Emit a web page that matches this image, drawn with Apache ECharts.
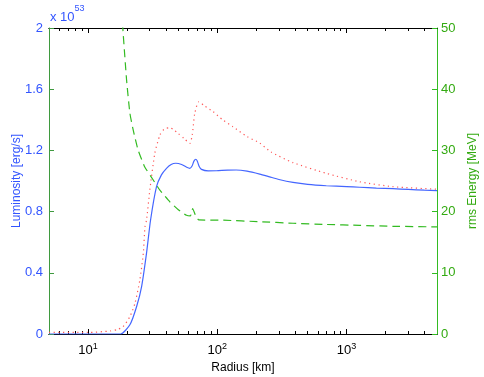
<!DOCTYPE html>
<html>
<head>
<meta charset="utf-8">
<script src="https://cdn.jsdelivr.net/npm/echarts@6/dist/echarts.min.js"></script>
<style>
html,body{margin:0;padding:0;background:#fff}
#main{width:484px;height:377px}
</style>
</head>
<body>
<div id="main"></div>
<script>
// values: radius [km] and the three curves
let blueR = [5,15,17.9,21.1,23.8,26,28.4,30.5,33.9,37,40.5,44,47.8,53,58,61.4,64,66,68.2,70,72.5,75.5,85,98.6,120,140,170,213,254,300,385,500,697,1000,1259,1700,2280,3000,4000,5000]
let blueL = [0,0,0,0.06,0.18,0.31,0.53,0.745,0.963,1.04,1.083,1.108,1.116,1.108,1.09,1.083,1.10,1.13,1.142,1.13,1.095,1.076,1.066,1.067,1.071,1.072,1.064,1.045,1.027,1.01,0.991,0.978,0.969,0.963,0.959,0.954,0.95,0.945,0.94,0.937]

let redR = [5,10,15,17,18.7,21.1,23.1,25.2,26.8,27.6,28.4,30.1,32.9,36,39,43,46,49.8,55,61.4,64,67,72,80,92.9,110,132,170,213,260,385,697,1259,2280,5000]
let redL = [0.01,0.01,0.02,0.03,0.048,0.113,0.2,0.353,0.527,0.70,0.745,0.941,1.181,1.30,1.34,1.348,1.335,1.311,1.28,1.246,1.30,1.442,1.518,1.49,1.453,1.40,1.355,1.29,1.248,1.19,1.12,1.05,0.995,0.963,0.946]

let greenR = [18,18.6,19.9,21.1,22.4,24.4,27.5,31.9,36,43,50,57.8,62,64.5,69,72,111,213,385,697,1259,2280,5000]
let greenE = [55,50,41.5,36.1,33.3,30.1,27.3,25.2,23.5,21.6,20.3,19.4,19.3,20.5,19.0,18.65,18.6,18.35,18.1,17.9,17.75,17.6,17.5]

let majorTicks = [10,100,1000]
let minorTicks = [6,7,8,9,20,30,40,50,60,70,80,90,200,300,400,500,600,700,800,900,2000,3000,4000]

const zip = (a,b) => a.map((v,i) => [v,b[i]])
const FONT = 'Liberation Sans'

function xAx(grid, pos, ticks, len, labels) {
  return {
    type:'log', logBase:10, min:5, max:5000, position:pos, gridIndex:grid,
    axisLine:{show:true, onZero:false, lineStyle:{color:'#000', width:1}},
    axisTick:{show:true, inside:true, length:len, customValues:ticks, lineStyle:{color:'#000'}},
    axisLabel:labels ? {
      show:true, customValues:majorTicks, margin:8,
      formatter: v => '{b|10}{s|' + Math.round(Math.log10(v)) + '}',
      rich:{b:{fontFamily:FONT, fontSize:13, color:'#000'}, s:{fontFamily:FONT, fontSize:9, color:'#000', verticalAlign:'top', padding:[0,0,8,0]}}
    } : {show:false},
    splitLine:{show:false}, minorTick:{show:false}
  }
}

let myChart = echarts.init(document.getElementById('main'))

const gridBox = {left:49, right:47, top:28, bottom:43, outerBoundsMode:'none', containLabel:false}

let options = {
  animation:false,
  backgroundColor:'#fff',
  grid:[Object.assign({}, gridBox), Object.assign({}, gridBox)],
  graphic:[{
    type:'text', left:50, top:4,
    style:{text:'{a|x 10}{s|53}', rich:{a:{fontFamily:FONT, fontSize:13, fill:'#3355ff', padding:[7,0,0,0]}, s:{fontFamily:FONT, fontSize:9, fill:'#3355ff', verticalAlign:'top'}}}
  }],
  xAxis:[
    Object.assign(xAx(0, 'bottom', majorTicks, 5, true), {name:'Radius [km]', nameLocation:'middle', nameGap:27, nameTextStyle:{fontFamily:FONT, fontSize:12, color:'#000'}}),
    xAx(0, 'top', majorTicks, 5, false),
    xAx(1, 'bottom', minorTicks, 3, false),
    xAx(1, 'top', minorTicks, 3, false)
  ],
  yAxis:[{
    type:'value', min:0, max:2, interval:0.4, position:'left', gridIndex:0,
    name:'Luminosity [erg/s]', nameLocation:'middle', nameGap:26, nameRotate:90, nameMoveOverlap:false,
    nameTextStyle:{fontFamily:FONT, fontSize:12, color:'#3355ff'},
    axisLine:{show:true, onZero:false, lineStyle:{color:'#3f9a3f'}},
    axisTick:{show:true, inside:true, length:5, lineStyle:{color:'#3f9a3f'}},
    axisLabel:{fontFamily:FONT, fontSize:13, color:'#3355ff', margin:6, formatter: v => String(+v.toFixed(1))},
    splitLine:{show:false}
  },{
    type:'value', min:0, max:50, interval:10, position:'right', gridIndex:0,
    name:'rms Energy [MeV]', nameLocation:'middle', nameGap:30, nameRotate:90,
    nameTextStyle:{fontFamily:FONT, fontSize:12, color:'#33aa11'},
    axisLine:{show:true, onZero:false, lineStyle:{color:'#33bb22'}},
    axisTick:{show:true, inside:true, length:5, lineStyle:{color:'#33bb22'}},
    axisLabel:{fontFamily:FONT, fontSize:13, color:'#33aa11', margin:4},
    splitLine:{show:false}
  },{
    type:'value', min:0, max:2, gridIndex:1, show:false
  }],
  series:[{
    name:'L1', type:'line', xAxisIndex:0, yAxisIndex:0, data:zip(redR, redL),
    showSymbol:false, smooth:0.2,
    lineStyle:{color:'#ff5555', width:1.2, type:[1.2,3.5]}
  },{
    name:'L2', type:'line', xAxisIndex:0, yAxisIndex:0, data:zip(blueR, blueL),
    showSymbol:false, smooth:0.2,
    lineStyle:{color:'#4466ff', width:1.2}
  },{
    name:'E', type:'line', xAxisIndex:0, yAxisIndex:1, data:zip(greenR, greenE),
    showSymbol:false, smooth:0.15, clip:true,
    lineStyle:{color:'#33bb22', width:1.2, type:[8,5]}
  }]
}

myChart.setOption(options)
</script>
</body>
</html>
